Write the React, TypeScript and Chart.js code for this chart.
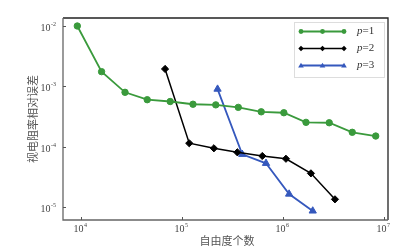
import React, { useEffect, useRef } from "react";
import { Chart, registerables } from "chart.js";

Chart.register(...registerables);

const dof1 = [9200, 16000, 27300, 45300, 76500, 128500, 216000, 361000, 609000, 1020000, 1690000, 2870000, 4850000, 8280000];
const err1 = [1.0e-2, 1.75e-3, 7.96e-4, 6.0e-4, 5.6e-4, 5.05e-4, 4.93e-4, 4.48e-4, 3.78e-4, 3.65e-4, 2.53e-4, 2.49e-4, 1.73e-4, 1.5e-4];
const dof2 = [68000, 118000, 207000, 353000, 624000, 1070000, 1890000, 3270000];
const err2 = [1.94e-3, 1.14e-4, 9.4e-5, 8.07e-5, 7.0e-5, 6.3e-5, 3.61e-5, 1.34e-5];
const dof3 = [225000, 395000, 679000, 1150000, 1970000];
const err3 = [9.0e-4, 7.47e-5, 5.3e-5, 1.64e-5, 8.6e-6];

const seriesNames = ["1", "2", "3"];
const xTickValues = [1e4, 1e5, 1e6, 1e7];
const xTickExps = ["4", "5", "6", "7"];
const yTickValues = [1e-2, 1e-3, 1e-4, 1e-5];
const yTickExps = ["-2", "-3", "-4", "-5"];
const xTitle = "自由度个数";
const yTitle = "视电阻率相对误差";

const colors = ["#3a9a3c", "#000000", "#3558bd"];
const pointStyles = ["circle", "rectRot", "triangle"];
const pointRadii = [3.2, 3.6, 4.2];
const lineWidths = [1.8, 1.5, 1.8];

const toPts = (xs: number[], ys: number[]) => xs.map((x, i) => ({ x, y: ys[i] }));

function marker(ctx: CanvasRenderingContext2D, style: string, r: number, x: number, y: number) {
  ctx.beginPath();
  if (style === "circle") {
    ctx.arc(x, y, r, 0, Math.PI * 2);
  } else if (style === "rectRot") {
    ctx.moveTo(x, y - r);
    ctx.lineTo(x + r, y);
    ctx.lineTo(x, y + r);
    ctx.lineTo(x - r, y);
    ctx.closePath();
  } else {
    const h = r * 1.5;
    ctx.moveTo(x, y - h * 0.6);
    ctx.lineTo(x + r * 0.9, y + h * 0.4);
    ctx.lineTo(x - r * 0.9, y + h * 0.4);
    ctx.closePath();
  }
  ctx.fill();
}

const axesPlugin = {
  id: "customAxes",
  afterDraw(chart: any) {
    const ctx = chart.ctx as CanvasRenderingContext2D;
    const { left, right, top, bottom } = chart.chartArea;
    const xs = chart.scales.x;
    const ys = chart.scales.y;
    ctx.save();
    ctx.lineWidth = 1.3;
    ctx.strokeStyle = "#222";
    ctx.beginPath();
    ctx.moveTo(left, top);
    ctx.lineTo(right, top);
    ctx.lineTo(right, bottom);
    ctx.stroke();
    ctx.strokeStyle = "#666";
    ctx.beginPath();
    ctx.moveTo(left, top);
    ctx.lineTo(left, bottom);
    ctx.lineTo(right, bottom);
    ctx.stroke();

    ctx.lineWidth = 1;
    ctx.strokeStyle = "#555";
    xTickValues.forEach((v) => {
      const px = Math.round(xs.getPixelForValue(v)) + 0.5;
      ctx.beginPath();
      ctx.moveTo(px, bottom);
      ctx.lineTo(px, bottom - 3);
      ctx.stroke();
    });
    yTickValues.forEach((v) => {
      const py = Math.round(ys.getPixelForValue(v)) + 0.5;
      ctx.beginPath();
      ctx.moveTo(left, py);
      ctx.lineTo(left + 3, py);
      ctx.stroke();
    });

    const baseFont = "10px 'Liberation Serif', serif";
    const supFont = "6px 'Liberation Serif', serif";
    ctx.fillStyle = "#444";
    ctx.textBaseline = "middle";
    xTickValues.forEach((v, i) => {
      const px = xs.getPixelForValue(v);
      ctx.font = baseFont;
      const w1 = ctx.measureText("10").width;
      ctx.font = supFont;
      const w2 = ctx.measureText(xTickExps[i]).width;
      const start = px - (w1 + w2) / 2 - 1;
      ctx.font = baseFont;
      ctx.textAlign = "left";
      ctx.fillText("10", start, 229);
      ctx.font = supFont;
      ctx.fillText(xTickExps[i], start + w1 + 0.5, 225);
    });
    yTickValues.forEach((v, i) => {
      const py = ys.getPixelForValue(v);
      ctx.font = supFont;
      const w2 = ctx.measureText(yTickExps[i]).width;
      ctx.font = baseFont;
      const w1 = ctx.measureText("10").width;
      const end = 56;
      ctx.textAlign = "left";
      ctx.fillText("10", end - w2 - w1 - 0.5, py + 2.5);
      ctx.font = supFont;
      ctx.fillText(yTickExps[i], end - w2, py - 1.5);
    });

    ctx.fillStyle = "#555";
    ctx.font = "11px 'Noto Sans CJK SC', sans-serif";
    ctx.textAlign = "center";
    ctx.textBaseline = "middle";
    ctx.fillText(xTitle, 227, 241);
    ctx.save();
    ctx.translate(33, 119);
    ctx.rotate(-Math.PI / 2);
    ctx.fillText(yTitle, 0, 0);
    ctx.restore();

    const lx0 = 294, ly0 = 22, lx1 = 384, ly1 = 77;
    ctx.strokeStyle = "#dddddd";
    ctx.lineWidth = 1;
    ctx.strokeRect(lx0 + 0.5, ly0 + 0.5, lx1 - lx0, ly1 - ly0);
    const rows = [31.5, 48.5, 65.5];
    seriesNames.forEach((name, i) => {
      const y = rows[i];
      ctx.strokeStyle = colors[i];
      ctx.lineWidth = lineWidths[i];
      ctx.beginPath();
      ctx.moveTo(301, y);
      ctx.lineTo(344, y);
      ctx.stroke();
      ctx.fillStyle = colors[i];
      [301, 322.5, 344].forEach((mx) => marker(ctx, pointStyles[i], pointRadii[i] * 0.75, mx, y));
      ctx.fillStyle = "#333";
      ctx.textAlign = "left";
      ctx.textBaseline = "middle";
      ctx.font = "italic 11px 'Liberation Serif', serif";
      ctx.fillText("p", 357, y);
      const wp = ctx.measureText("p").width;
      ctx.font = "11px 'Liberation Serif', serif";
      ctx.fillText("=" + name, 357 + wp, y);
    });
    ctx.restore();
  },
};

export default function App() {
  const ref = useRef<HTMLCanvasElement | null>(null);
  useEffect(() => {
    if (!ref.current) return;
    const chart = new Chart(ref.current, {
      type: "scatter",
      data: {
        datasets: [
          { label: "p=1", data: toPts(dof1, err1) },
          { label: "p=2", data: toPts(dof2, err2) },
          { label: "p=3", data: toPts(dof3, err3) },
        ].map((d, i) => ({
          ...d,
          showLine: true,
          borderColor: colors[i],
          backgroundColor: colors[i],
          borderWidth: lineWidths[i],
          pointStyle: pointStyles[i] as any,
          pointRadius: pointRadii[i],
          pointBorderWidth: 1,
          pointBorderColor: colors[i],
          pointBackgroundColor: colors[i],
        })),
      },
      options: {
        responsive: false,
        animation: false,
        devicePixelRatio: 1,
        layout: { padding: { left: 63, top: 18, right: 21, bottom: 29 } },
        plugins: { legend: { display: false }, tooltip: { enabled: false } },
        scales: {
          x: { type: "logarithmic", display: false, min: 6640, max: 1.0955e7 },
          y: { type: "logarithmic", display: false, min: 6.086e-6, max: 0.01357 },
        },
      },
      plugins: [axesPlugin],
    });
    return () => chart.destroy();
  }, []);
  return (
    <div style={{ position: "fixed", left: 0, top: 0, width: 409, height: 249, background: "#fff" }}>
      <canvas ref={ref} width={409} height={249} style={{ display: "block" }} />
    </div>
  );
}
